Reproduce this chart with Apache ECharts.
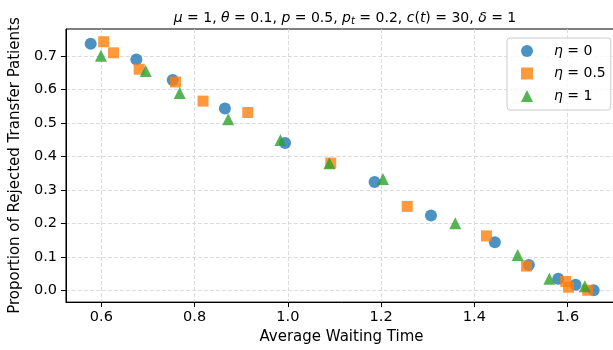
<!DOCTYPE html>
<html>
<head>
<meta charset="utf-8">
<script src="https://cdn.jsdelivr.net/npm/echarts@6/dist/echarts.min.js"></script>
<style>
html,body{margin:0;padding:0;overflow:hidden;background:#fff;}
#c{width:620px;height:350px;}
</style>
</head>
<body>
<div id="c"></div>
<script>
const seriesNames = ['η = 0', 'η = 0.5', 'η = 1'];
const eta0X = [0.577, 0.675, 0.753, 0.865, 0.994, 1.186, 1.307, 1.444, 1.517, 1.580, 1.617, 1.656];
const eta0Y = [0.736, 0.689, 0.628, 0.543, 0.440, 0.324, 0.224, 0.144, 0.076, 0.035, 0.017, 0.001];
const eta05X = [0.605, 0.626, 0.681, 0.759, 0.818, 0.914, 1.092, 1.256, 1.426, 1.512, 1.596, 1.602, 1.643];
const eta05Y = [0.742, 0.709, 0.660, 0.622, 0.565, 0.531, 0.380, 0.251, 0.163, 0.073, 0.027, 0.010, 0.001];
const eta1X = [0.599, 0.695, 0.768, 0.872, 0.984, 1.089, 1.204, 1.359, 1.493, 1.561, 1.637];
const eta1Y = [0.700, 0.655, 0.589, 0.511, 0.449, 0.380, 0.333, 0.201, 0.106, 0.035, 0.013];
const xTicks = [0.6, 0.8, 1.0, 1.2, 1.4, 1.6];
const yTicks = [0.0, 0.1, 0.2, 0.3, 0.4, 0.5, 0.6, 0.7];

const pair = (xs, ys) => xs.map((x, i) => [x, ys[i]]);
const FONT = 'DejaVu Sans';
const FS = 14.5;
const NFS = 15;
const LFS = 14;
const chart = echarts.init(document.getElementById('c'), null, {renderer: 'canvas'});

const gridLine = {show: true, lineStyle: {color: '#d3d3d3', type: [4, 2], width: 0.8}};
const symbols = ['circle', 'rect', 'triangle'];
const colors = ['#1f77b4', '#ff7f0e', '#2ca02c'];

chart.setOption({
  animation: false,
  backgroundColor: '#fff',
  title: {
    text: '{i|μ} = 1, {i|θ} = 0.1, {i|p} = 0.5, {i|p}{sub|t} = 0.2, {i|c}({i|t}) = 30, {i|δ} = 1',
    left: 340, top: 5, textAlign: 'center',
    textStyle: {
      fontFamily: FONT, fontSize: 14, fontWeight: 'normal', color: '#000',
      rich: {
        i: {fontFamily: FONT, fontStyle: 'italic', fontSize: 14, color: '#000'},
        sub: {fontFamily: FONT, fontStyle: 'italic', fontSize: 10, color: '#000', verticalAlign: 'bottom', padding: [6, 0, 0, 0]}
      }
    }
  },
  grid: {left: 63, top: 29, right: 3, bottom: 44, containLabel: false, show: true, borderColor: '#000', borderWidth: 1, backgroundColor: 'transparent'},
  legend: {
    left: 507, top: 38,
    orient: 'vertical',
    data: seriesNames.map((n, k) => ({name: n, icon: symbols[k]})),
    itemWidth: 12, itemHeight: 12, itemGap: 8.5,
    padding: [6, 5, 7, 14],
    backgroundColor: 'rgba(255,255,255,0.8)',
    borderColor: '#cccccc', borderWidth: 1, borderRadius: 3,
    formatter: (name) => '{s|}{i|η} = ' + name.split('= ')[1],
    textStyle: {
      fontFamily: FONT, fontSize: LFS, color: '#000', lineHeight: 12,
      rich: {
        s: {width: 16, lineHeight: 12},
        i: {fontFamily: FONT, fontStyle: 'italic', fontSize: LFS, color: '#000', lineHeight: 12}
      }
    }
  },
  xAxis: {
    type: 'value', min: 0.524, max: 1.706,
    name: 'Average Waiting Time', nameLocation: 'middle', nameGap: 27,
    nameTextStyle: {fontFamily: FONT, fontSize: NFS, color: '#000'},
    axisLine: {show: true, onZero: false, lineStyle: {color: '#000', width: 1}},
    axisTick: {show: true, length: 5, lineStyle: {color: '#000'}, customValues: xTicks},
    axisLabel: {show: true, margin: 8, fontFamily: FONT, fontSize: FS, color: '#000', customValues: xTicks,
      formatter: (v) => v.toFixed(1)},
    splitLine: gridLine
  },
  yAxis: {
    type: 'value', min: -0.0344, max: 0.780,
    name: 'Proportion of Rejected Transfer Patients', nameLocation: 'middle', nameGap: 36, nameRotate: 90,
    nameTextStyle: {fontFamily: FONT, fontSize: NFS, color: '#000'},
    axisLine: {show: true, onZero: false, lineStyle: {color: '#000', width: 1}},
    axisTick: {show: true, length: 5, lineStyle: {color: '#000'}, customValues: yTicks},
    axisLabel: {show: true, margin: 9, fontFamily: FONT, fontSize: FS, color: '#000', customValues: yTicks,
      formatter: (v) => v.toFixed(1)},
    splitLine: gridLine
  },
  series: [
    {name: seriesNames[0], type: 'scatter', symbol: symbols[0], symbolSize: 12,
     itemStyle: {color: colors[0], opacity: 0.8}, data: pair(eta0X, eta0Y)},
    {name: seriesNames[1], type: 'scatter', symbol: symbols[1], symbolSize: 11,
     itemStyle: {color: colors[1], opacity: 0.8}, data: pair(eta05X, eta05Y)},
    {name: seriesNames[2], type: 'scatter', symbol: symbols[2], symbolSize: 12,
     itemStyle: {color: colors[2], opacity: 0.8}, data: pair(eta1X, eta1Y)}
  ]
});
</script>
</body>
</html>
